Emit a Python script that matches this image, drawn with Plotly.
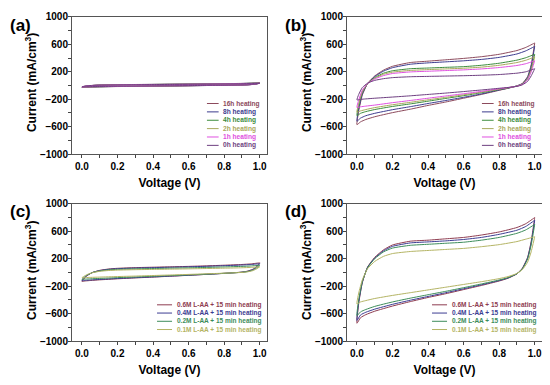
import plotly.graph_objects as go

# Voltage grids (forward sweep / reverse sweep)
V_UP = [0, 0.01, 0.03, 0.06, 0.1, 0.15, 0.2, 0.3, 0.4, 0.5, 0.6, 0.7, 0.8, 0.9, 0.95, 1.0]
V_DOWN = [1.0, 0.98, 0.96, 0.93, 0.9, 0.85, 0.8, 0.7, 0.6, 0.5, 0.4, 0.3, 0.2, 0.1, 0.05, 0.02, 0.0]

HEAT_NAMES = ["16h heating", "8h heating", "4h heating", "2h heating", "1h heating", "0h heating"]
HEAT_COLORS = ["#8c4a5c", "#3c3c8e", "#3c8c3c", "#a8a85c", "#e050e0", "#6e3f80"]

# Panel (a): current (mA/cm3)
A_UP = {
    "16h heating": [-28, -18, -8, 0, 6, 10, 12, 15, 17, 19, 21, 24, 27, 31, 34, 40],
    "8h heating": [-26, -17, -7, 0, 6, 9, 11, 14, 16, 18, 20, 23, 26, 30, 33, 38],
    "4h heating": [-24, -15, -6, 1, 5, 8, 10, 13, 15, 17, 19, 22, 25, 29, 32, 36],
    "2h heating": [-23, -14, -6, 1, 5, 8, 10, 13, 15, 17, 19, 21, 24, 28, 31, 35],
    "1h heating": [-22, -13, -5, 1, 5, 7, 9, 12, 14, 16, 18, 21, 24, 27, 30, 34],
    "0h heating": [-20, -12, -4, 2, 5, 7, 9, 12, 14, 16, 18, 20, 23, 26, 29, 32],
}
A_DOWN = {
    "16h heating": [40, 25, 18, 12, 9, 6, 4, 0, -3, -6, -9, -12, -15, -19, -22, -25, -28],
    "8h heating": [38, 24, 17, 11, 8, 6, 4, 0, -3, -6, -9, -11, -14, -18, -21, -24, -26],
    "4h heating": [36, 23, 16, 11, 8, 6, 4, 1, -2, -5, -8, -10, -13, -17, -20, -22, -24],
    "2h heating": [35, 22, 16, 11, 8, 6, 4, 1, -2, -5, -7, -10, -13, -16, -19, -21, -23],
    "1h heating": [34, 22, 15, 10, 8, 6, 4, 1, -2, -4, -7, -9, -12, -15, -18, -20, -22],
    "0h heating": [32, 21, 15, 10, 8, 6, 4, 2, -1, -4, -6, -9, -11, -14, -16, -18, -20],
}

# Panel (b)
B_UP = {
    "16h heating": [-570, -370, -140, 30, 140, 225, 280, 335, 355, 375, 395, 420, 455, 510, 555, 620],
    "8h heating": [-520, -340, -125, 30, 130, 210, 260, 310, 330, 345, 360, 380, 410, 460, 505, 570],
    "4h heating": [-440, -290, -100, 30, 115, 180, 215, 245, 255, 265, 275, 295, 325, 370, 405, 455],
    "2h heating": [-390, -260, -90, 30, 105, 165, 195, 220, 232, 242, 252, 268, 295, 335, 368, 417],
    "1h heating": [-320, -210, -70, 30, 95, 145, 175, 198, 208, 218, 228, 242, 262, 292, 318, 360],
    "0h heating": [-210, -130, -30, 35, 75, 100, 115, 128, 133, 138, 143, 150, 160, 180, 200, 245],
}
B_DOWN = {
    "16h heating": [620, 300, 130, 30, -5, -40, -70, -130, -185, -240, -290, -345, -395, -455, -495, -530, -570],
    "8h heating": [570, 280, 120, 25, -5, -38, -65, -122, -172, -218, -262, -308, -352, -405, -440, -475, -520],
    "4h heating": [455, 240, 100, 20, -8, -35, -58, -105, -148, -188, -228, -268, -305, -350, -380, -405, -440],
    "2h heating": [417, 220, 95, 18, -8, -32, -53, -95, -135, -172, -208, -245, -280, -322, -350, -370, -390],
    "1h heating": [360, 200, 85, 15, -10, -30, -48, -85, -120, -152, -185, -218, -250, -285, -300, -310, -320],
    "0h heating": [245, 140, 60, 10, -12, -28, -40, -65, -88, -110, -130, -150, -168, -185, -195, -202, -210],
}

LAA_NAMES = ["0.6M L-AA + 15 min heating", "0.4M L-AA + 15 min heating",
             "0.2M L-AA + 15 min heating", "0.1M L-AA + 15 min heating"]
LAA_COLORS = ["#8e3c50", "#3c3c92", "#3c8c5a", "#b4b464"]

# Panel (c)
C_UP = {
    LAA_NAMES[0]: [-130, -95, -45, 0, 30, 50, 60, 70, 76, 82, 88, 96, 105, 116, 124, 140],
    LAA_NAMES[1]: [-120, -88, -42, 0, 27, 45, 55, 64, 70, 76, 82, 89, 98, 108, 115, 128],
    LAA_NAMES[2]: [-100, -74, -36, -2, 22, 37, 45, 52, 57, 62, 67, 73, 80, 88, 94, 105],
    LAA_NAMES[3]: [-78, -58, -30, -3, 16, 28, 34, 40, 44, 48, 52, 57, 62, 68, 73, 82],
}
C_DOWN = {
    LAA_NAMES[0]: [140, 80, 45, 18, 5, -5, -13, -28, -42, -55, -68, -80, -93, -108, -117, -124, -130],
    LAA_NAMES[1]: [128, 72, 40, 15, 3, -6, -14, -28, -41, -53, -65, -76, -88, -102, -110, -116, -120],
    LAA_NAMES[2]: [105, 60, 32, 12, 2, -6, -13, -25, -36, -46, -56, -66, -76, -87, -93, -97, -100],
    LAA_NAMES[3]: [82, 48, 25, 8, 0, -6, -11, -20, -29, -37, -45, -53, -60, -68, -72, -75, -78],
}

# Panel (d)
D_UP = {
    LAA_NAMES[0]: [-740, -450, -150, 80, 220, 330, 400, 455, 470, 490, 510, 545, 590, 655, 710, 800],
    LAA_NAMES[1]: [-700, -430, -145, 75, 210, 315, 380, 430, 445, 460, 480, 510, 555, 615, 670, 760],
    LAA_NAMES[2]: [-630, -400, -135, 70, 200, 300, 355, 395, 410, 425, 440, 470, 510, 570, 620, 700],
    LAA_NAMES[3]: [-460, -300, -110, 55, 160, 235, 275, 305, 320, 335, 350, 375, 405, 450, 485, 520],
}
D_DOWN = {
    LAA_NAMES[0]: [800, 450, 220, 60, -20, -85, -125, -190, -250, -310, -365, -425, -490, -565, -615, -660, -740],
    LAA_NAMES[1]: [760, 430, 210, 55, -20, -80, -118, -180, -238, -295, -350, -405, -465, -535, -580, -620, -700],
    LAA_NAMES[2]: [700, 400, 195, 50, -18, -75, -110, -168, -222, -275, -325, -375, -430, -495, -540, -575, -630],
    LAA_NAMES[3]: [520, 300, 150, 40, -15, -60, -90, -135, -175, -215, -255, -295, -335, -380, -410, -430, -460],
}

Y_TICKS = [-1000, -600, -200, 200, 600, 1000]
X_TICKS = [0.0, 0.2, 0.4, 0.6, 0.8, 1.0]
X_TICK_TEXT = ["0.0", "0.2", "0.4", "0.6", "0.8", "1.0"]
PANEL_LABELS = ["(a)", "(b)", "(c)", "(d)"]
X_TITLE = "Voltage (V)"
Y_TITLE = "Current (mA/cm<sup>3</sup>)"

FONT = "Arial, Liberation Sans, sans-serif"

fig = go.Figure()

panels = [
    ("x", "y", HEAT_NAMES, HEAT_COLORS, A_UP, A_DOWN),
    ("x2", "y2", HEAT_NAMES, HEAT_COLORS, B_UP, B_DOWN),
    ("x3", "y3", LAA_NAMES, LAA_COLORS, C_UP, C_DOWN),
    ("x4", "y4", LAA_NAMES, LAA_COLORS, D_UP, D_DOWN),
]

for xa, ya, names, colors, up, down in panels:
    for name, color in zip(names, colors):
        fig.add_trace(go.Scatter(
            x=V_UP + V_DOWN, y=up[name] + down[name],
            mode="lines", name=name, showlegend=False,
            line=dict(color=color, width=1, shape="spline", smoothing=0.5),
            xaxis=xa, yaxis=ya,
        ))

# the page body has an 8px margin, so the figure is drawn inside it
OFF = 8
W, H = 550 - OFF, 385 - OFF


def fx(px):
    return (px - OFF) / W


def fy(py):
    return 1 - (py - OFF) / H


x_doms = [[fx(72), fx(267)], [fx(347), fx(542)]]
y_doms = [[fy(153), fy(12)], [fy(345), fy(204)]]

layout = dict(
    width=W, height=H, margin=dict(l=0, r=0, t=0, b=0),
    paper_bgcolor="white", plot_bgcolor="white",
    font=dict(family=FONT, color="black"),
    showlegend=False,
)

for i in range(4):
    sfx = "" if i == 0 else str(i + 1)
    xd = x_doms[i % 2]
    yd = y_doms[i // 2]
    layout["xaxis" + sfx] = dict(
        domain=xd, anchor="y" + sfx, range=[-0.056, 1.041],
        tickvals=X_TICKS, ticktext=X_TICK_TEXT,
        ticks="outside", ticklen=3, tickcolor="#444", tickwidth=1,
        minor=dict(dtick=0.1, tick0=0, ticks="outside", ticklen=3, tickcolor="#444"),
        showline=True, linecolor="#555", linewidth=1, mirror=True,
        showgrid=False, zeroline=False,
        tickfont=dict(size=10, weight="bold", family=FONT),
        title=dict(text=X_TITLE, font=dict(size=12, weight="bold", family=FONT), standoff=7),
    )
    layout["yaxis" + sfx] = dict(
        domain=yd, anchor="x" + sfx, range=[-1000, 1000],
        tickvals=Y_TICKS,
        ticks="outside", ticklen=3, tickcolor="#444", tickwidth=1,
        ticklabelstandoff=-2,
        minor=dict(dtick=200, tick0=-1000, ticks="outside", ticklen=3, tickcolor="#444"),
        showline=True, linecolor="#555", linewidth=1, mirror=True,
        showgrid=False, zeroline=False,
        tickfont=dict(size=10, weight="bold", family=FONT),
    )

annotations = []
shapes = []
# panel labels (kept inside the page)
label_pos = [(8, 9), (283, 9), (8, 200), (283, 200)]
for lab, (px, py) in zip(PANEL_LABELS, label_pos):
    annotations.append(dict(text=lab, x=fx(px), y=fy(py), xref="paper", yref="paper",
                            showarrow=False, xanchor="left", yanchor="top",
                            font=dict(size=17, weight="bold", family=FONT, color="black")))

# y-axis titles, one per panel
ytitle_pos = [(31, 80), (306, 80), (31, 273), (306, 273)]
for (px, py) in ytitle_pos:
    annotations.append(dict(text=Y_TITLE, x=fx(px), y=fy(py), xref="paper", yref="paper",
                            showarrow=False, xanchor="center", yanchor="middle", textangle=-90,
                            font=dict(size=12, weight="bold", family=FONT, color="black")))

# in-plot legends
for i, (xa, ya, names, colors, up, down) in enumerate(panels):
    xr = xa + " domain"
    yr = ya + " domain"
    if i < 2:
        lx0, lx1, tx, y0, dy, fs = 0.692, 0.752, 0.765, 0.369, 0.061, 6.6
    else:
        lx0, lx1, tx, y0, dy, fs = 0.436, 0.513, 0.528, 0.264, 0.060, 6.5
    for k, (name, color) in enumerate(zip(names, colors)):
        yy = y0 - k * dy
        shapes.append(dict(type="line", xref=xr, yref=yr, x0=lx0, x1=lx1, y0=yy, y1=yy,
                           line=dict(color=color, width=1)))
        annotations.append(dict(text=name, xref=xr, yref=yr, x=tx, y=yy, showarrow=False,
                                xanchor="left", yanchor="middle",
                                font=dict(size=fs, weight="bold", family=FONT, color=color)))

layout["annotations"] = annotations
layout["shapes"] = shapes
fig.update_layout(**layout)
fig.write_html("out.html")
